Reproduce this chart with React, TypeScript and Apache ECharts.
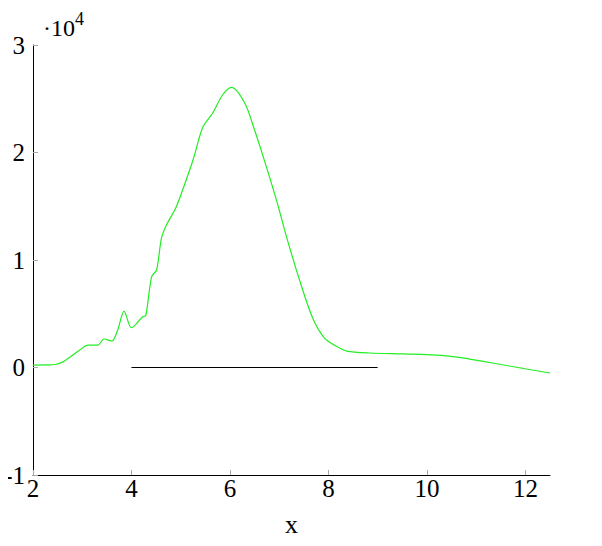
import React, { useEffect, useRef } from "react";
import * as echarts from "echarts";

const xValues = [2.0, 2.3, 2.45, 2.6, 2.95, 3.12, 3.32, 3.44, 3.6, 3.72, 3.85, 4.0, 4.23, 4.29, 4.41, 4.51, 4.61, 4.71, 4.88, 4.98, 5.25, 5.45, 5.65, 5.85, 6.03, 6.3, 6.5, 6.71, 6.955, 7.146, 7.416, 7.68, 7.92, 8.19, 8.37, 8.84, 9.5, 10.19, 10.66, 10.9, 11.33, 12.02, 12.5];
const yValues = [230, 240, 280, 500, 1630, 2090, 2090, 2650, 2470, 3490, 5250, 3700, 4720, 4820, 8450, 9070, 12050, 13260, 14650, 15770, 19300, 22370, 23670, 25350, 26050, 24600, 22090, 19100, 15400, 12200, 8100, 4600, 2740, 1900, 1530, 1350, 1260, 1160, 950, 760, 420, -140, -510];
const refX = [4, 9];
const refY = [0, 0];
const xTicks = [2, 4, 6, 8, 10, 12];
const exponentBase = "\u00b710";
const exponentPower = "4";

export default function App() {
  const ref = useRef<HTMLDivElement>(null);
  useEffect(() => {
    if (!ref.current) return;
    const chart = echarts.init(ref.current, null, { renderer: "svg" });
    const font = "Liberation Serif";
    chart.setOption({
      animation: false,
      grid: { left: 33, right: 52, top: 45, bottom: 71, containLabel: false, outerBoundsMode: "none" },
      xAxis: {
        type: "value",
        min: 2,
        max: 12.5,
        interval: 2,
        name: "x",
        nameLocation: "middle",
        nameGap: 36,
        nameTextStyle: { fontFamily: font, fontSize: 26, color: "#000" },
        axisLine: { show: true, onZero: false, lineStyle: { color: "#000", width: 1 } },
        axisTick: { show: true, inside: true, length: 5, customValues: xTicks, lineStyle: { color: "#aaa" } },
        axisLabel: { customValues: xTicks, margin: 1, fontFamily: font, fontSize: 25, color: "#000" },
        splitLine: { show: false },
      },
      yAxis: {
        type: "value",
        min: -10000,
        max: 30000,
        interval: 10000,
        axisLine: { show: true, onZero: false, lineStyle: { color: "#000", width: 1 } },
        axisTick: { show: true, inside: true, length: 5, lineStyle: { color: "#aaa" } },
        axisLabel: {
          margin: 8,
          fontFamily: font,
          fontSize: 25,
          color: "#000",
          formatter: (v: number) => {
            const n = Math.round(v / 10000);
            return n < 0 ? "-" + Math.abs(n) : String(n);
          },
        },
        splitLine: { show: false },
      },
      graphic: [
        {
          type: "text",
          x: 43,
          y: 28,
          style: {
            text: exponentBase,
            fontFamily: font,
            fontSize: 24,
            fill: "#000",
            align: "left",
            verticalAlign: "middle",
          },
        },
        {
          type: "text",
          x: 75,
          y: 19,
          style: {
            text: exponentPower,
            fontFamily: font,
            fontSize: 18,
            fill: "#000",
            align: "left",
            verticalAlign: "middle",
          },
        },
      ],
      series: [
        {
          type: "line",
          data: xValues.map((x, i) => [x, yValues[i]]),
          smooth: 0.3,
          showSymbol: false,
          lineStyle: { color: "#22ee22", width: 1.2 },
        },
        {
          type: "line",
          data: refX.map((x, i) => [x, refY[i]]),
          showSymbol: false,
          lineStyle: { color: "#000", width: 1 },
        },
      ],
    });
    return () => chart.dispose();
  }, []);
  return <div ref={ref} style={{ width: 602, height: 546, margin: "-8px 0 0 -8px" }} />;
}
